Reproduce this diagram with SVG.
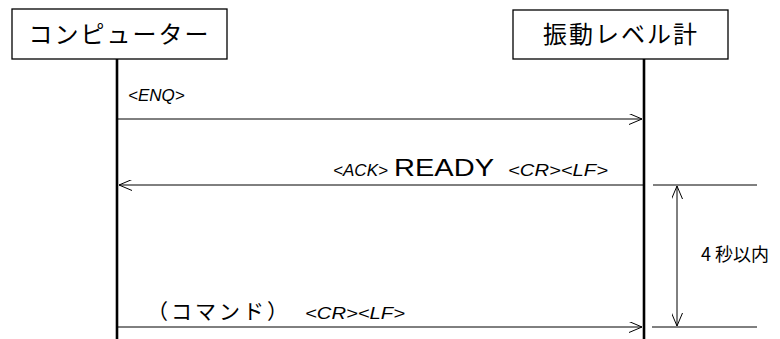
<svg xmlns="http://www.w3.org/2000/svg" width="780" height="339" viewBox="0 0 780 339">
<defs>
<style>
.box{fill:#fff;stroke:#000;stroke-width:1.3}
.life{stroke:#000;stroke-width:2.6}
.msg{stroke:#000;stroke-width:1;fill:none}
.head{stroke:#000;stroke-width:1;fill:none}
.jp{font-family:"Noto Sans CJK JP","Noto Sans",sans-serif;fill:#000}
.lat{font-family:"Liberation Sans",Arial,sans-serif;fill:#000}
.it{font-style:italic;font-size:17px}
</style>
<marker id="ah" viewBox="0 0 13 11" refX="13" refY="5.5" markerWidth="13" markerHeight="11" markerUnits="userSpaceOnUse" orient="auto-start-reverse">
<path d="M0,0 L13,5.5 L0,11" class="head"/>
</marker>
</defs>
<rect width="780" height="339" fill="#fff"/>
<g id="node-computer">
<rect class="box" x="12" y="9" width="215" height="50"/>
<text class="jp" x="119.5" y="43" font-size="24" text-anchor="middle" letter-spacing="2">コンピューター</text>
<line class="life" x1="117" y1="59" x2="117" y2="339"/>
</g>
<g id="node-meter">
<rect class="box" x="513" y="10" width="215" height="49"/>
<text class="jp" x="621" y="43" font-size="24" text-anchor="middle" letter-spacing="2">振動レベル計</text>
<line class="life" x1="644" y1="59" x2="644" y2="339"/>
</g>
<g id="connectors">
<line class="msg" x1="118" y1="119" x2="642" y2="119" marker-end="url(#ah)"/>
<text class="lat it" x="128" y="101">&lt;ENQ&gt;</text>
<line class="msg" x1="119" y1="185" x2="643" y2="185" marker-start="url(#ah)"/>
<text class="lat it" x="333" y="176" textLength="55" lengthAdjust="spacingAndGlyphs">&lt;ACK&gt;</text>
<text class="lat" x="394" y="176" font-size="24" textLength="100" lengthAdjust="spacingAndGlyphs">READY</text>
<text class="lat it" x="508" y="176" textLength="100" lengthAdjust="spacingAndGlyphs">&lt;CR&gt;&lt;LF&gt;</text>
<line class="msg" x1="118" y1="327" x2="642" y2="327" marker-end="url(#ah)"/>
<text class="jp" x="147" y="319" font-size="21" letter-spacing="3">（コマンド）</text>
<text class="lat it" x="305" y="319" textLength="100" lengthAdjust="spacingAndGlyphs">&lt;CR&gt;&lt;LF&gt;</text>
</g>
<g id="timing">
<line class="msg" x1="653" y1="185" x2="757" y2="185"/>
<line class="msg" x1="652" y1="327" x2="757" y2="327"/>
<line class="msg" x1="677" y1="186" x2="677" y2="326" marker-start="url(#ah)" marker-end="url(#ah)"/>
<text class="jp" x="701" y="261" font-size="18">4 秒以内</text>
</g>
</svg>
